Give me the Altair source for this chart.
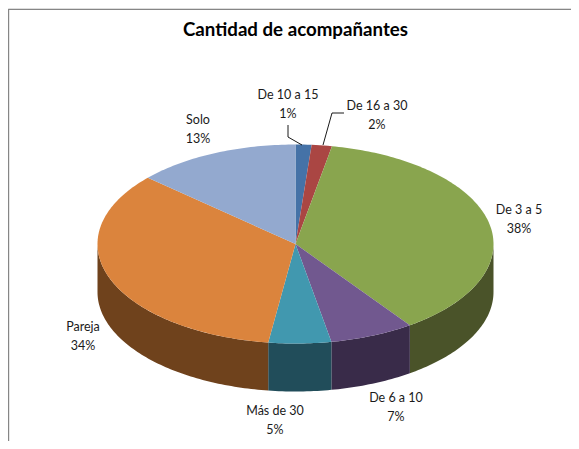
import math
import altair as alt
import pandas as pd

# --- chart values ---
categories = ["De 10 a 15", "De 16 a 30", "De 3 a 5", "De 6 a 10", "Más de 30", "Pareja", "Solo"]
values = [1.3, 1.65, 37.25, 6.9, 5.1, 34.4, 13.4]
percent_labels = ["1%", "2%", "38%", "7%", "5%", "34%", "13%"]
top_colors = ["#4572A7", "#AA4643", "#89A54E", "#71588F", "#4198AF", "#DB843D", "#93A9CF"]
wall_colors = ["#27405E", "#5F2726", "#4A5329", "#392B49", "#214D5A", "#6F421C", "#4F5C74"]
label_x = [288, 377, 519, 396, 275, 83, 198]
label_y = [95, 106, 210, 398, 411, 327, 120]

title_text = "Cantidad de acompañantes"
FONT = "Lato"

# --- projected pie geometry, page pixels ---
CX, CY, RX, RY, DEPTH = 295.5, 244.0, 198.0, 99.5, 48.0


def rim(theta_deg, dy=0.0):
    t = math.radians(theta_deg)
    return CX + RX * math.sin(t), CY - RY * math.cos(t) + dy


total = sum(values)
tops, walls = [], []
start = 0.0
for name, v in zip(categories, values):
    end = start + v / total * 360.0
    n = max(2, int((end - start) / 1.0) + 1)
    thetas = [start + (end - start) * i / (n - 1) for i in range(n)]
    pts = [(CX, CY)] + [rim(t) for t in thetas]
    for i, (x, y) in enumerate(pts):
        tops.append({"slice": name, "i": i, "x": x, "y": y})
    a, b = max(start, 90.0), min(end, 270.0)
    if b > a:
        m = max(2, int(b - a) + 1)
        ts = [a + (b - a) * i / (m - 1) for i in range(m)]
        poly = [rim(t) for t in ts] + [rim(t, DEPTH) for t in reversed(ts)]
        for i, (x, y) in enumerate(poly):
            walls.append({"slice": name, "i": i, "x": x, "y": y})
    start = end

W, H = 563, 433
xs = alt.Scale(domain=[8, 8 + W], range=[0, W], nice=False, zero=False)
ys = alt.Scale(domain=[8, 8 + H], range=[0, H], nice=False, zero=False)
X = alt.X("x:Q", scale=xs, axis=None)
Y = alt.Y("y:Q", scale=ys, axis=None)


def polygons(rows, colors):
    return (
        alt.Chart(pd.DataFrame(rows))
        .mark_line(strokeWidth=0, fill="black", fillOpacity=1, interpolate="linear-closed")
        .encode(
            x=X, y=Y, order="i:Q",
            detail="slice:N",
            fill=alt.Fill("slice:N", scale=alt.Scale(domain=categories, range=colors), legend=None),
        )
    )


walls_layer = polygons(walls, wall_colors)
tops_layer = polygons(tops, top_colors)

label_rows = []
for n, p, x, y in zip(categories, percent_labels, label_x, label_y):
    label_rows.append({"t": n, "x": x, "y": y})
    label_rows.append({"t": p, "x": x, "y": y + 19})
labels_layer = (
    alt.Chart(pd.DataFrame(label_rows))
    .mark_text(font=FONT, fontSize=12.5, color="#1a1a1a", align="center", baseline="middle")
    .encode(x=X, y=Y, text="t:N")
)

leaders = pd.DataFrame([
    {"k": "a", "i": 0, "x": 288, "y": 125}, {"k": "a", "i": 1, "x": 288, "y": 137}, {"k": "a", "i": 2, "x": 302, "y": 145},
    {"k": "b", "i": 0, "x": 344, "y": 113}, {"k": "b", "i": 1, "x": 332, "y": 113}, {"k": "b", "i": 2, "x": 323, "y": 145},
])
leader_layer = (
    alt.Chart(leaders).mark_line(color="#000000", strokeWidth=0.9)
    .encode(x=X, y=Y, order="i:Q", detail="k:N")
)

frame = pd.DataFrame([
    {"i": 0, "x": 8.6, "y": 441}, {"i": 1, "x": 8.6, "y": 9.5}, {"i": 2, "x": 571, "y": 9.5},
])
frame_layer = (
    alt.Chart(frame).mark_line(color="#868686", strokeWidth=1.2)
    .encode(x=X, y=Y, order="i:Q")
)

chart = (
    alt.layer(frame_layer, walls_layer, tops_layer, leader_layer, labels_layer)
    .resolve_scale(fill="independent")
    .properties(
        width=W, height=H, padding=0,
        autosize=alt.AutoSizeParams(type="none"),
        title=alt.TitleParams(
            title_text, font=FONT, fontSize=18.7, fontWeight="bold", color="#000000",
            anchor="start", frame="group", dx=175, offset=-33,
        ),
    )
    .configure_view(stroke=None)
    .configure(background="white")
)
chart.save("out.html", embed_options={"renderer": "svg", "actions": False})
